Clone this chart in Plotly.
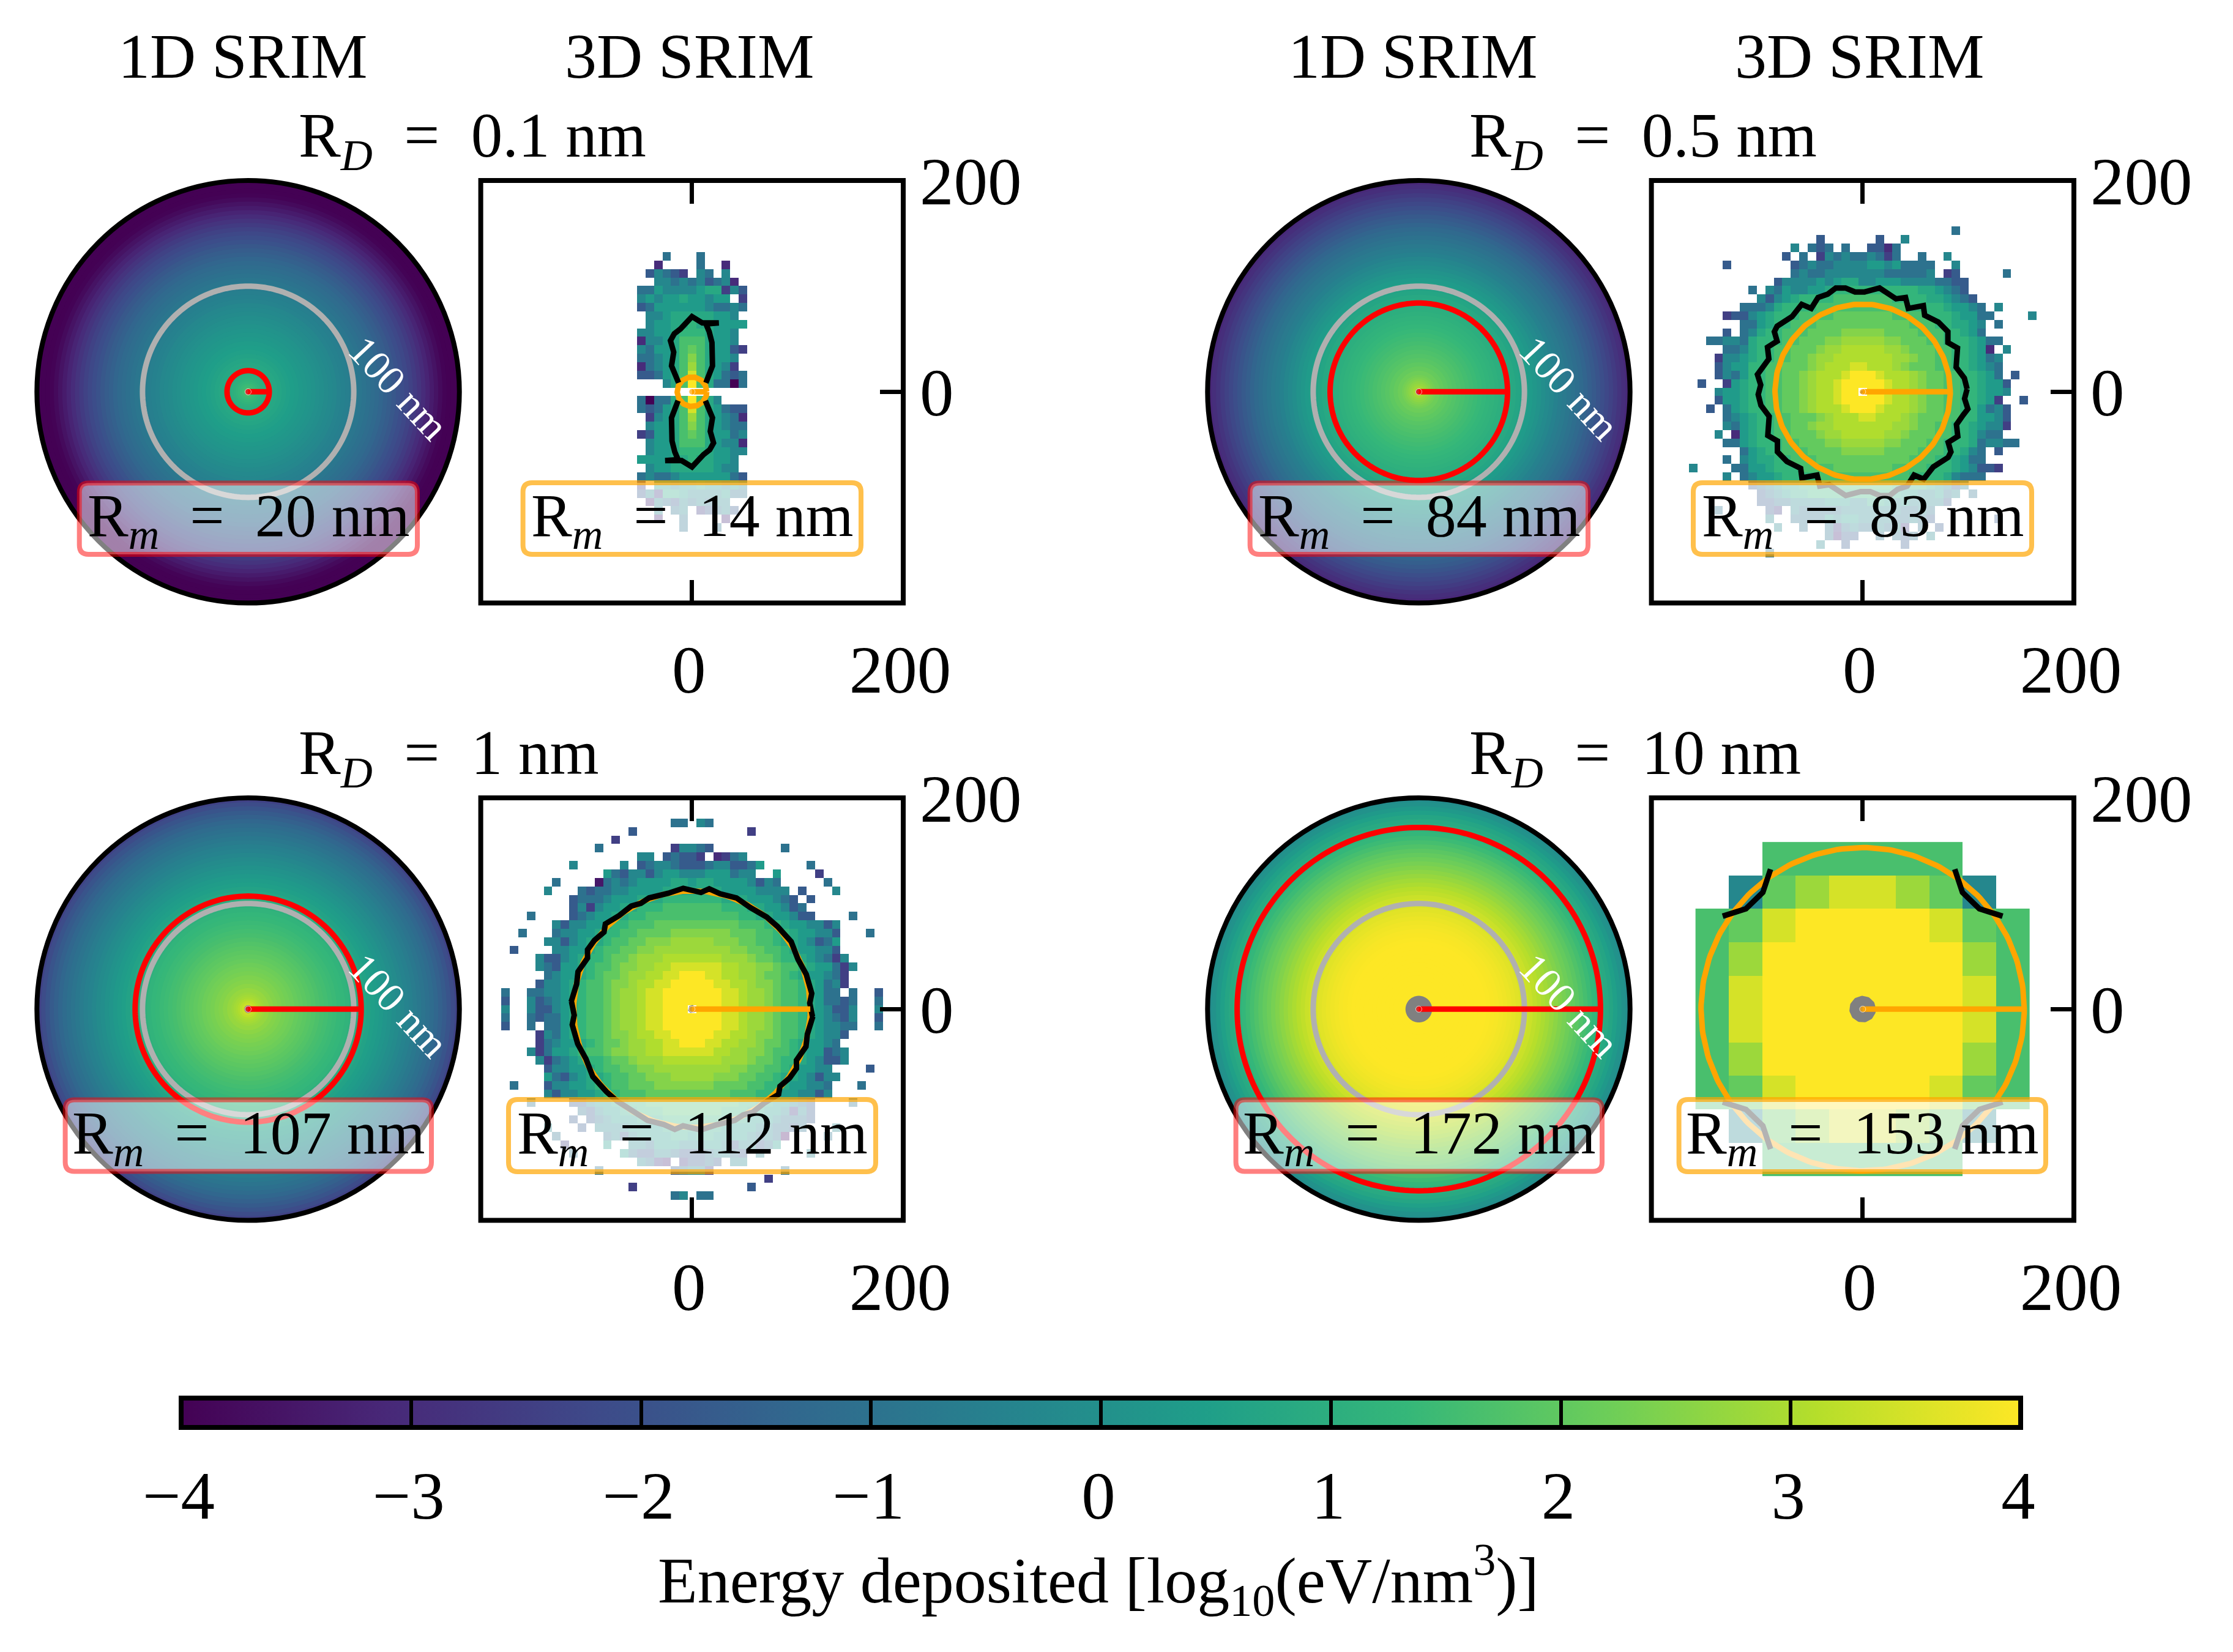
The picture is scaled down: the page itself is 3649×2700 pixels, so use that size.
import numpy as np
import plotly.graph_objects as go

W, H = 3649, 2700
FONT = "Liberation Serif"

# Outer radius of each ring of the 1D SRIM dose profiles [nm]
RING_OUTER = [2, 4, 6, 8, 10, 12, 14, 16, 20, 24, 28, 32, 36, 40, 44, 48, 52, 56, 60, 64, 68, 72, 76,
              80, 84, 88, 92, 96, 100, 104, 108, 112, 116, 120, 124, 128, 132, 136, 140, 144, 148,
              152, 156, 160, 164, 168, 172, 176, 180, 184, 188, 192, 196, 200]

# log10 energy deposited per ring, from the centre outwards
DOSE_01 = [1.9, 1.7, 1.5, 1.4, 1.3, 1.2, 1.1, 1.05, .95, .85, .75, .68, .6, .52, .45, .38, .3, .22, .15, .08,
           0, -.07, -.15, -.22, -.3, -.4, -.48, -.56, -.65, -.75, -.85, -.95, -1.05, -1.15, -1.28, -1.4, -1.52,
           -1.65, -1.8, -1.95, -2.1, -2.25, -2.42, -2.6, -2.8, -3.0, -3.2, -3.4, -3.6, -3.8, -3.95, -4, -4, -4]
DOSE_05 = [3.3, 3.05, 2.85, 2.7, 2.6, 2.48, 2.38, 2.3, 2.2, 2.08, 1.98, 1.88, 1.8, 1.72, 1.65, 1.57, 1.5, 1.43,
           1.36, 1.3, 1.23, 1.17, 1.1, 1.03, .96, .88, .8, .7, .6, .48, .35, .22, .08, -.05, -.2, -.33, -.47, -.6,
           -.73, -.87, -1, -1.13, -1.27, -1.42, -1.58, -1.74, -1.9, -2.07, -2.25, -2.42, -2.6, -2.78, -2.95, -3.1]
DOSE_1 = [3.9, 3.6, 3.35, 3.2, 3.05, 2.95, 2.87, 2.8, 2.72, 2.6, 2.5, 2.42, 2.34, 2.27, 2.2, 2.1, 2.02, 1.94,
          1.86, 1.78, 1.7, 1.62, 1.55, 1.48, 1.42, 1.35, 1.28, 1.2, 1.1, 1, .88, .72, .6, .48, .37, .27, .17, .07,
          -.05, -.16, -.28, -.4, -.52, -.65, -.78, -.92, -1.05, -1.2, -1.36, -1.52, -1.7, -1.9, -2.15, -2.4]
DOSE_10 = [4, 4, 4, 4, 4, 4, 4, 4, 4, 4, 4, 4, 4, 4, 4, 4, 4, 4, 4, 4, 3.98, 3.95, 3.92, 3.88, 3.84, 3.78, 3.72,
           3.65, 3.56, 3.47, 3.37, 3.25, 3.13, 3.0, 2.87, 2.74, 2.6, 2.46, 2.33, 2.2, 2.07, 1.92, 1.76, 1.6,
           1.45, 1.3, 1.15, 1.0, .85, .7, .5, .3, .05, -.1]

# 3D SRIM histograms: each letter stands for the log10 level at the same place in LEVEL_VALUES, '.' is an
# empty bin. Rows run from the top row down to y = 0, each as (first column, bins); the lower half is the
# point reflection of the upper half.
LEVEL_CODES = "abcdefghijklmnopq"
LEVEL_VALUES = [-4, -3.5, -3, -2.5, -1.7, -1.0, -0.3, 0.35, 0.8, 1.25, 1.65, 2.05, 2.5, 2.8, 3.05, 3.5, 4]
BIN_FINE = 8.02
BIN_COARSE = 31.65

ROWS_01 = [
    (-6, "...f...f....."), (-6, "..c....f..c.."), (-6, ".egfed.gf.g.."), (-6, "..ggfgfgefgc."),
    (-6, "ffhgggghiidge"), (-6, "ghghhihhghh.d"), (-6, "efhhhhhhgffgf"), (-6, ".gghiiiiihhg."),
    (-6, ".ghhiijiihhhh"), (-6, "gghhijjjihhg."), (-6, "cgghikkkihhg."), (-6, "gfhhiklkihhed"),
    (-6, "ffghikmkihhg."), (-6, "cfghiknkihgd."), (-6, "eefhikpkihfef"), (-6, "...gikqkiffaf"),
    (-6, "............."),
]
ROWS_05 = [
    (11, "f"),
    (-5, "e......e..g"),
    (-8, "g.fef.f..eecf"),
    (-9, "e.f.dgfgffgfdf..f..g"),
    (-16, "e.......efgffgggghhghffff..g"),
    (-8, "fgffgggggggfffffg.de.....f"),
    (-10, "egggghghiigghhhggggffee"),
    (-13, "f.gfhgghhijjjjjjjjjjiihgfe"),
    (-12, "geghijjjjkkkkkkkjjjjiihgfe"),
    (-14, "fffgijjjjkkkkkkkkkkkjjjjihhgf.g"),
    (-16, "deeghijjjkkkklllllllkkkkjjjihhff....g"),
    (-14, "ffhijjkkklllllllllllkkkjjiihg.f"),
    (-16, "e.fgijjkkkllllmmmmmllllkkkjjihf"),
    (-18, "ffggfijjjkklllmmnnnnnmmlllkkjjjihff"),
    (-16, "ffgijjkklllmnnooooonnmlllkkjjihc.g"),
    (-17, "dgghijjkkllmnnooooooonnmllkkjjihfg"),
    (-17, "eghhjjkklllmnoooppooonmlllkkjjihgf"),
    (-17, "egfhjjkkllmnooopqqqpooonmllkkjjihf.e"),
    (-19, "e..dhijjkkllmnoopqqqqqpoonmllkkjjihhe"),
    (-17, "ghhijjkkllmnoopqq.qqpoonmllkkjjihhg"),
]
ROWS_1 = [
    (-2, "ff.gf"),
    (-7, "e.............d"),
    (-9, "d"),
    (-11, "f........dggfe........f"),
    (-6, "gg.efeed.cdfg"),
    (-14, "g.....g.efggfeeefggeefh.....f"),
    (-10, "hfeggeghhggghhhfgg..h....d"),
    (-16, "f....bfgfghhhhiihiihhhhgegf.....f"),
    (-17, "g...feffgghhhhiiiiiiihhhhgggg.e...g"),
    (-14, "efffghhhiiijjjjjjjiiihhhgfe.e"),
    (-14, "egdghhiijjjkkkkkkkjjjiihhgef"),
    (-19, "f....efghhiijjkkkkkkkkkkkjjiihhgee....f"),
    (-16, "gegghhijjkkkllllllllllkkkjjihhggeg"),
    (-20, "f...fgghhijjkkllllmmmmmmmlllkkjjihhgge...f"),
    (-17, "ggeghiijkkllmmmnnnnnmmmllkkjiihgefh"),
    (-21, "e....gghhijkkllmmnnnnnnnnnmmllkkjihhgge"),
    (-18, "geeghijjkllmnnnooooooonnnmllkjjihgfdg"),
    (-18, "gfehhijkklmmnnooppppppoonnmmlkkjihhfdg"),
    (-17, "fghhijkllmnnooppqqqppoonnmllkjihhgfd"),
    (-18, "egghijkklmmnooppqqqqqppoonmmlkkjihfgd"),
    (-22, "f..ffgghijkklmnnoppqqqqqqqpponnmlkkjihff.f..e"),
    (-22, "e..gefghijkklmnnoppqqqqqqqpponnmlkkjihffef..f"),
    (-22, "g..geeghijkklmnnoppqqq.qqqpponnmlkkjihgeeg..g"),
]
# Coarse bins of the 10 nm run, upper half, edges on the origin
ROWS_10 = ["..kkkkkk..", ".glnppnlg.", "klpqqqqplk", "knqqqqqqnk", "kpqqqqqqpk"]

# Contour of each 3D histogram [nm]; half of the outline, the rest is its point reflection
CONTOUR_01_X = [-12.7, -19.4, -17.3, -20.4, -16.8, -10.9, 0, 9.8, 25.4, 13.2, 16.3, 18.9, 19.4, 13.2]
CONTOUR_01_Y = [8.5, 24.6, 37.5, 48.4, 54.9, 59.5, 71.2, 65.2, 65.2, 64.2, 56.9, 46.6, 24.6, 8.5]
CONTOUR_05_X = [98.9, 96.3, 88.5, 89.8, 80.7, 80.7, 71.7, 58.7, 57.5, 43.2, 40.6, 31.6, 16, 1.8, -7.2, -16.3, -25.4,
                -33.1, -42.2, -48.7, -57.7, -66.8, -81, -83.6, -81, -90.1, -88.8, -95.2, -99.6, -96.5, -99.6]
CONTOUR_05_Y = [2.6, 12.9, 23.3, 41.4, 46.6, 56.9, 66, 72.5, 81.5, 78.9, 89.3, 88, 98.3, 94.5, 94.5, 98.3, 98.3,
                92.4, 89.3, 78.9, 82.8, 71.2, 62.1, 56.9, 47.9, 42.2, 31.1, 22, 16.3, 6.5, -1.3]
CONTOUR_1_X = [114.1, 111.5, 113.4, 108.2, 100.4, 93.9, 81, 70.7, 55.1, 42.2, 26.7, 16.3, 8.5, -8.3, -22.5, -40.6,
               -48.4, -57.5, -69.1, -82, -83.3, -92.4, -98.9, -98.9, -107.9, -109.2, -114.4]
CONTOUR_1_Y = [-7.2, 5.7, 14.8, 32.9, 47.1, 63.9, 78.2, 87.2, 96.3, 105.3, 109.2, 113.9, 110.5, 114.4, 109.7, 105.3,
               100.2, 97.6, 88.5, 80.7, 73, 65.2, 56.2, 48.4, 35.5, 23.8, 7]
# One corner arc of the 10 nm contour; the other three are mirror images
CONTOUR_10_X = [87.2, 94.5, 110.5, 132.5]
CONTOUR_10_Y = [132.5, 110.5, 95, 88]

DEPOSIT_RADII = ["0.1", "0.5", "1", "10"]
R_DEPOSIT = [0.1, 0.5, 1, 10]
R_MAX_1D = [20, 84, 107, 172]
R_MAX_3D = [14, 83, 112, 153]
COLORBAR_TICKS = [-4, -3, -2, -1, 0, 1, 2, 3, 4]
AXIS_TICKS = [0, 200]


def fx(px):
    return px / W


def fy(py):
    return 1 - py / H


def level(code):
    return LEVEL_VALUES[LEVEL_CODES.index(code)]


def fine_grid(rows, half=23):
    z = np.full((2 * half + 1, 2 * half + 1), np.nan)
    top = len(rows) - 1
    for i, (start, cells) in enumerate(rows):
        y = top - i
        for k, code in enumerate(cells):
            if code == ".":
                continue
            x = start + k
            z[half + y, half + x] = level(code)
            if y > 0:
                z[half - y, half - x] = level(code)
    centres = np.arange(-half, half + 1) * BIN_FINE
    return centres, centres, z


def coarse_grid(rows):
    upper = [[level(c) if c != "." else None for c in row] for row in rows]
    z = upper + upper[::-1]
    centres = (np.arange(-5, 5) + 0.5) * BIN_COARSE
    return centres, centres, z


def half_outline(xs, ys):
    xs, ys = np.array(xs), np.array(ys)
    x = np.concatenate([xs, -xs, xs[:1]])
    y = np.concatenate([ys, -ys, ys[:1]])
    return x, y


def rounded_box(x0, y0, x1, y1, rad=15):
    a, b, c, d = fx(x0), fx(x1), fy(y0), fy(y1)
    rx, ry = rad / W, rad / H
    return (f"M{a + rx},{c} L{b - rx},{c} Q{b},{c} {b},{c - ry} L{b},{d + ry} Q{b},{d} {b - rx},{d} "
            f"L{a + rx},{d} Q{a},{d} {a},{d + ry} L{a},{c - ry} Q{a},{c} {a + rx},{c} Z")


upper_01 = (np.array(CONTOUR_01_X), np.array(CONTOUR_01_Y))
contour_01 = (np.concatenate([upper_01[0], [None], -upper_01[0]]),
              np.concatenate([upper_01[1], [None], -upper_01[1]]))
cx10, cy10 = np.array(CONTOUR_10_X), np.array(CONTOUR_10_Y)
contour_10 = (np.concatenate([cx10, [None], -cx10, [None], cx10, [None], -cx10]),
              np.concatenate([cy10, [None], cy10, [None], -cy10, [None], -cy10]))

GRIDS = [fine_grid(ROWS_01), fine_grid(ROWS_05), fine_grid(ROWS_1), coarse_grid(ROWS_10)]
CONTOURS = [contour_01, half_outline(CONTOUR_05_X, CONTOUR_05_Y), half_outline(CONTOUR_1_X, CONTOUR_1_Y), contour_10]
PROFILES = [DOSE_01, DOSE_05, DOSE_1, DOSE_10]

# Pixel layout of the four panel pairs
COL_OFFSET = 1913
ROW_OFFSET = 1009
DISK_CX, CENTRE_Y, BOX_CX = 405.5, 640.3, 1130.8
HALF = 345.2
LINE = 9
FRAME = 8
GREY = "#808080"
RING = "#b0b0b0"
EQUALS = "\u2002=\u2002"

BOX_1D = [(129.7, 789.5, 682, 906), (129.7 + COL_OFFSET, 789.5, 682 + COL_OFFSET, 906),
          (106.6, 1797.6, 705, 1914.5), (106.6 + COL_OFFSET, 1797.6, 705 + COL_OFFSET, 1914.5)]
BOX_3D = [(854.6, 789, 1407, 906), (2767, 789, 3320, 906), (831, 1797, 1431, 1915), (2743.6, 1797, 3343, 1915)]

fig = go.Figure()
shapes, annotations = [], []
layout = {}
theta_c = np.linspace(0, 360, 241)

for i in range(4):
    col, row = i % 2, i // 2
    dx, dy = col * COL_OFFSET, row * ROW_OFFSET
    cx1, cx3, cy = DISK_CX + dx, BOX_CX + dx, CENTRE_Y + dy
    pname = "polar" if i == 0 else f"polar{i + 1}"
    xname, yname = ("x", "y") if i == 0 else (f"x{i + 1}", f"y{i + 1}")
    xaxis, yaxis = ("xaxis", "yaxis") if i == 0 else (f"xaxis{i + 1}", f"yaxis{i + 1}")

    # 1D SRIM disk: rings painted largest first so that no seams show
    fig.add_trace(go.Barpolar(
        r=RING_OUTER[::-1], base=0, theta=[0] * len(RING_OUTER), width=[360] * len(RING_OUTER),
        marker=dict(color=PROFILES[i][::-1], coloraxis="coloraxis", line=dict(width=0)),
        subplot=pname, hoverinfo="skip", showlegend=False))
    fig.add_trace(go.Scatterpolar(r=[100] * len(theta_c), theta=theta_c, mode="lines",
                                  line=dict(color=RING, width=LINE), subplot=pname, showlegend=False))
    fig.add_trace(go.Scatterpolar(r=[R_MAX_1D[i]] * len(theta_c), theta=theta_c, mode="lines",
                                  line=dict(color="red", width=LINE), subplot=pname, showlegend=False))
    fig.add_trace(go.Scatterpolar(r=[R_DEPOSIT[i]] * len(theta_c), theta=theta_c, mode="lines", fill="toself",
                                  fillcolor=GREY, line=dict(color=GREY, width=LINE), subplot=pname, showlegend=False))
    fig.add_trace(go.Scatterpolar(r=[0, R_MAX_1D[i]], theta=[0, 0], mode="lines+markers",
                                  marker=dict(size=[LINE + 1, 0], color="red"),
                                  line=dict(color="red", width=LINE), subplot=pname, showlegend=False))
    layout[pname] = dict(
        domain=dict(x=[fx(cx1 - HALF), fx(cx1 + HALF)], y=[fy(cy + HALF), fy(cy - HALF)]),
        bgcolor="rgba(0,0,0,0)", barmode="overlay", bargap=0,
        radialaxis=dict(visible=False, range=[0, 200]),
        angularaxis=dict(showline=True, linecolor="black", linewidth=FRAME, showgrid=False,
                         showticklabels=False, ticks=""))

    # 3D SRIM histogram
    hx, hy, hz = GRIDS[i]
    fig.add_trace(go.Heatmap(x=hx, y=hy, z=hz, coloraxis="coloraxis", xaxis=xname, yaxis=yname,
                             hoverinfo="skip", showlegend=False))
    circ_x = R_MAX_3D[i] * np.cos(np.radians(theta_c))
    circ_y = R_MAX_3D[i] * np.sin(np.radians(theta_c))
    fig.add_trace(go.Scatter(x=circ_x, y=circ_y, mode="lines", line=dict(color="orange", width=LINE),
                             xaxis=xname, yaxis=yname, showlegend=False))
    cont_x, cont_y = CONTOURS[i]
    fig.add_trace(go.Scatter(x=cont_x, y=cont_y, mode="lines", line=dict(color="black", width=LINE),
                             xaxis=xname, yaxis=yname, showlegend=False, connectgaps=False))
    fig.add_trace(go.Scatter(x=R_DEPOSIT[i] * np.cos(np.radians(theta_c)), y=R_DEPOSIT[i] * np.sin(np.radians(theta_c)),
                             mode="lines", fill="toself", fillcolor=GREY, line=dict(color=GREY, width=LINE),
                             xaxis=xname, yaxis=yname, showlegend=False))
    fig.add_trace(go.Scatter(x=[0, R_MAX_3D[i]], y=[0, 0], mode="lines+markers",
                             marker=dict(size=[LINE + 1, 0], color="orange"),
                             line=dict(color="orange", width=LINE), xaxis=xname, yaxis=yname, showlegend=False))
    tick_font = dict(family=FONT, size=111, color="black")
    layout[xaxis] = dict(domain=[fx(cx3 - HALF), fx(cx3 + HALF)], range=[-200, 200], anchor=yname, showline=False,
                         showgrid=False, zeroline=False, ticks="inside", ticklen=38, tickwidth=7, tickcolor="black",
                         tickvals=AXIS_TICKS, mirror="ticks", tickfont=tick_font, ticklabelstandoff=34,
                         ticklabelshift=-5)
    layout[yaxis] = dict(domain=[fy(cy + HALF), fy(cy - HALF)], range=[-200, 200], anchor=xname, side="right",
                         showline=False, showgrid=False, zeroline=False, ticks="inside", ticklen=38, tickwidth=7,
                         tickcolor="black", tickvals=AXIS_TICKS, tickfont=tick_font, ticklabelstandoff=26)
    shapes.append(dict(type="rect", xref=f"{xname} domain", yref=f"{yname} domain", x0=0, x1=1, y0=0, y1=1,
                       line=dict(color="black", width=FRAME), layer="above"))

    # Radius labels in their rounded boxes
    box = BOX_1D[i]
    shapes.append(dict(type="path", xref="paper", yref="paper", path=rounded_box(*box), layer="above",
                       fillcolor="rgba(255,255,255,0.5)", line=dict(color="rgba(255,0,0,0.5)", width=8)))
    annotations.append(dict(x=fx((box[0] + box[2]) / 2), y=fy((box[1] + box[3]) / 2 + 2), xref="paper", yref="paper",
                            xanchor="center", yanchor="middle", showarrow=False,
                            text=f"R<sub><i>m</i></sub>{EQUALS}{R_MAX_1D[i]} nm",
                            font=dict(family=FONT, size=100, color="black")))
    box = BOX_3D[i]
    shapes.append(dict(type="path", xref="paper", yref="paper", path=rounded_box(*box), layer="above",
                       fillcolor="rgba(255,255,255,0.7)", line=dict(color="rgba(255,165,0,0.7)", width=8)))
    annotations.append(dict(x=fx((box[0] + box[2]) / 2), y=fy((box[1] + box[3]) / 2 + 2), xref="paper", yref="paper",
                            xanchor="center", yanchor="middle", showarrow=False,
                            text=f"R<sub><i>m</i></sub>{EQUALS}{R_MAX_3D[i]} nm",
                            font=dict(family=FONT, size=100, color="black")))

    annotations.append(dict(x=fx(cx1 + 246), y=fy(cy - 6), xref="paper", yref="paper", xanchor="center", yanchor="middle",
                            showarrow=False, textangle=47, text="100 nm", font=dict(family=FONT, size=67, color="white")))
    annotations.append(dict(x=fx(486 + dx), y=fy(229 + dy), xref="paper", yref="paper", xanchor="left", yanchor="middle",
                            showarrow=False, text=f"R<sub><i>D</i></sub>{EQUALS}{DEPOSIT_RADII[i]} nm",
                            font=dict(family=FONT, size=103, color="black")))

for dx in (0, COL_OFFSET - 1):
    for px, label in ((396, "1D SRIM"), (1126, "3D SRIM")):
        annotations.append(dict(x=fx(px + dx), y=fy(92), xref="paper", yref="paper", xanchor="center", yanchor="middle",
                                showarrow=False, text=label, font=dict(family=FONT, size=104, color="black")))

# Axis that carries the colour scale's tick labels below the bar
fig.add_trace(go.Scatter(x=COLORBAR_TICKS, y=[0] * len(COLORBAR_TICKS), mode="markers", marker=dict(opacity=0),
                         xaxis="x9", yaxis="y9", hoverinfo="skip", showlegend=False))
layout["xaxis9"] = dict(domain=[fx(296), fx(3302)], range=[-4, 4], anchor="y9", showline=False, showgrid=False,
                        zeroline=False, ticks="", tickvals=COLORBAR_TICKS, ticklabelstandoff=37, ticklabelshift=-4,
                        tickfont=dict(family=FONT, size=111, color="black"))
layout["yaxis9"] = dict(domain=[fy(2333), fy(2285)], visible=False)

annotations.append(dict(x=fx(1795), y=fy(2582), xref="paper", yref="paper", xanchor="center", yanchor="middle",
                        showarrow=False, text="Energy deposited [log<sub>10</sub>(eV/nm<sup>3</sup>)]",
                        font=dict(family=FONT, size=106, color="black")))

fig.update_layout(
    width=W, height=H, autosize=False, paper_bgcolor="white", plot_bgcolor="rgba(0,0,0,0)",
    margin=dict(l=0, r=0, t=0, b=0, pad=0, autoexpand=False), showlegend=False,
    shapes=shapes, annotations=annotations,
    coloraxis=dict(
        colorscale="Viridis", cmin=-4, cmax=4,
        colorbar=dict(orientation="h", x=fx(296), xanchor="left", xref="paper", y=fy(2285), yanchor="top", yref="paper",
                      lenmode="pixels", len=3006, thicknessmode="pixels", thickness=48, xpad=0, ypad=0,
                      outlinecolor="black", outlinewidth=8, ticks="inside", ticklen=48, tickwidth=6, tickcolor="black",
                      tickvals=COLORBAR_TICKS, showticklabels=False)),
    **layout)

fig.write_html("out.html")
